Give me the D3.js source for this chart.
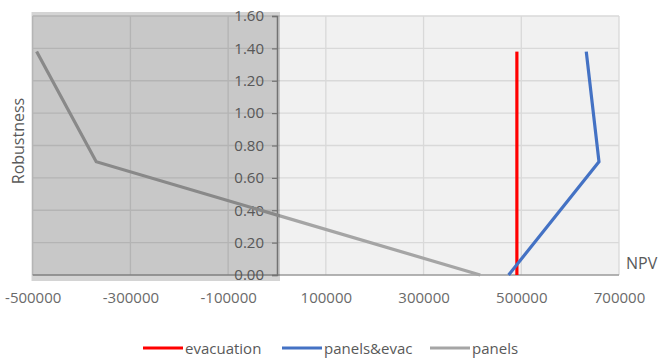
<!DOCTYPE html>
<html lang="en">
<head>
  <meta charset="UTF-8">
  <title>Robustness vs NPV</title>
  <style>
    body { margin: 0; background: #fff; font-family: "Open Sans", Arial, sans-serif; }
    svg text { fill: #595959; }
  </style>
</head>
<body>
  <div id="chart"></div>
  <script src="https://d3js.org/d3.v7.min.js"></script>
  <script>
    // Series
    const seriesNames = ["evacuation", "panels&evac", "panels"];
    const seriesColors = ["#ff0000", "#4472c4", "#a5a5a5"];
    const robustness = [0.00, 0.70, 1.38];
    const evacuationNpv = [491000, 491000, 491000];
    const panelsEvacNpv = [474000, 659000, 633000];
    const panelsNpv = [416000, -370000, -492000];
    const xTicks = [-500000, -300000, -100000, 100000, 300000, 500000, 700000];
    const yTicks = [0, 0.2, 0.4, 0.6, 0.8, 1.0, 1.2, 1.4, 1.6];

    const width = 658, height = 358;
    const svg = d3.select("#chart").append("svg")
      .attr("width", width).attr("height", height);

    const x = d3.scaleLinear().domain([-500000, 700000]).range([32.7, 619]);
    const y = d3.scaleLinear().domain([0, 1.6]).range([275, 16]);

    // plot background
    svg.append("rect")
      .attr("x", x(-500000)).attr("y", y(1.6))
      .attr("width", x(700000) - x(-500000)).attr("height", y(0) - y(1.6))
      .attr("fill", "#f1f1f1");

    // gridlines
    svg.append("g").selectAll("line").data(yTicks.slice(1)).enter().append("line")
      .attr("x1", x(-500000)).attr("x2", x(700000))
      .attr("y1", d => y(d)).attr("y2", d => y(d))
      .attr("stroke", "#d9d9d9").attr("stroke-width", 1.3);
    svg.append("g").selectAll("line").data(xTicks).enter().append("line")
      .attr("x1", d => x(d)).attr("x2", d => x(d))
      .attr("y1", y(0)).attr("y2", y(1.6))
      .attr("stroke", "#d9d9d9").attr("stroke-width", 1.3);

    // x axis line
    svg.append("line")
      .attr("x1", x(-500000)).attr("x2", x(700000))
      .attr("y1", y(0)).attr("y2", y(0))
      .attr("stroke", "#9a9a9a").attr("stroke-width", 1.5);

    // y axis at x = 0
    const yAxis = d3.axisLeft(y).tickValues(yTicks).tickFormat(d3.format(".2f"))
      .tickSize(5).tickPadding(8);
    const gy = svg.append("g").attr("transform", `translate(${x(0)},0)`).call(yAxis);
    gy.select(".domain").attr("stroke", "#8a8a8a").attr("stroke-width", 1.5);
    gy.selectAll(".tick line").attr("stroke", "#8a8a8a").attr("stroke-width", 1.2);
    gy.selectAll("text").attr("font-family", "Open Sans").attr("font-size", 15)
      .style("fill", "#6a6a6a");

    // x tick labels below plot
    const xAxis = d3.axisBottom(x).tickValues(xTicks).tickFormat(d => d).tickSize(0).tickPadding(17);
    const gx = svg.append("g").attr("transform", `translate(0,${y(0)})`).call(xAxis);
    gx.select(".domain").remove();
    gx.selectAll("text").attr("font-family", "Open Sans").attr("font-size", 15)
      .style("fill", "#6a6a6a");

    // lines
    const line = d3.line().x(d => x(d[0])).y(d => y(d[1]));
    const allSeries = [evacuationNpv, panelsEvacNpv, panelsNpv];
    allSeries.forEach((vals, i) => {
      svg.append("path")
        .datum(vals.map((v, j) => [v, robustness[j]]))
        .attr("d", line)
        .attr("fill", "none")
        .attr("stroke", seriesColors[i])
        .attr("stroke-width", 3.2)
        .attr("stroke-linejoin", "miter");
    });

    // translucent shading over the negative-NPV half
    svg.append("rect")
      .attr("x", 31.5).attr("y", 12)
      .attr("width", 280 - 31.5).attr("height", 281 - 12)
      .attr("fill", "#000").attr("opacity", 0.17);

    // axis titles
    svg.append("text")
      .attr("transform", `translate(24,141) rotate(-90)`)
      .attr("text-anchor", "middle")
      .attr("font-size", 16)
      .text("Robustness");
    svg.append("text")
      .attr("x", 626).attr("y", 269)
      .attr("font-size", 16)
      .text("NPV");

    // legend
    const legendX = [143, 282, 430];
    const legend = svg.append("g");
    seriesNames.forEach((name, i) => {
      legend.append("line")
        .attr("x1", legendX[i]).attr("x2", legendX[i] + 40)
        .attr("y1", 348).attr("y2", 348)
        .attr("stroke", seriesColors[i]).attr("stroke-width", 3.2);
      legend.append("text")
        .attr("x", legendX[i] + 42).attr("y", 353.5)
        .attr("font-size", 15)
        .text(name);
    });
  </script>
</body>
</html>
